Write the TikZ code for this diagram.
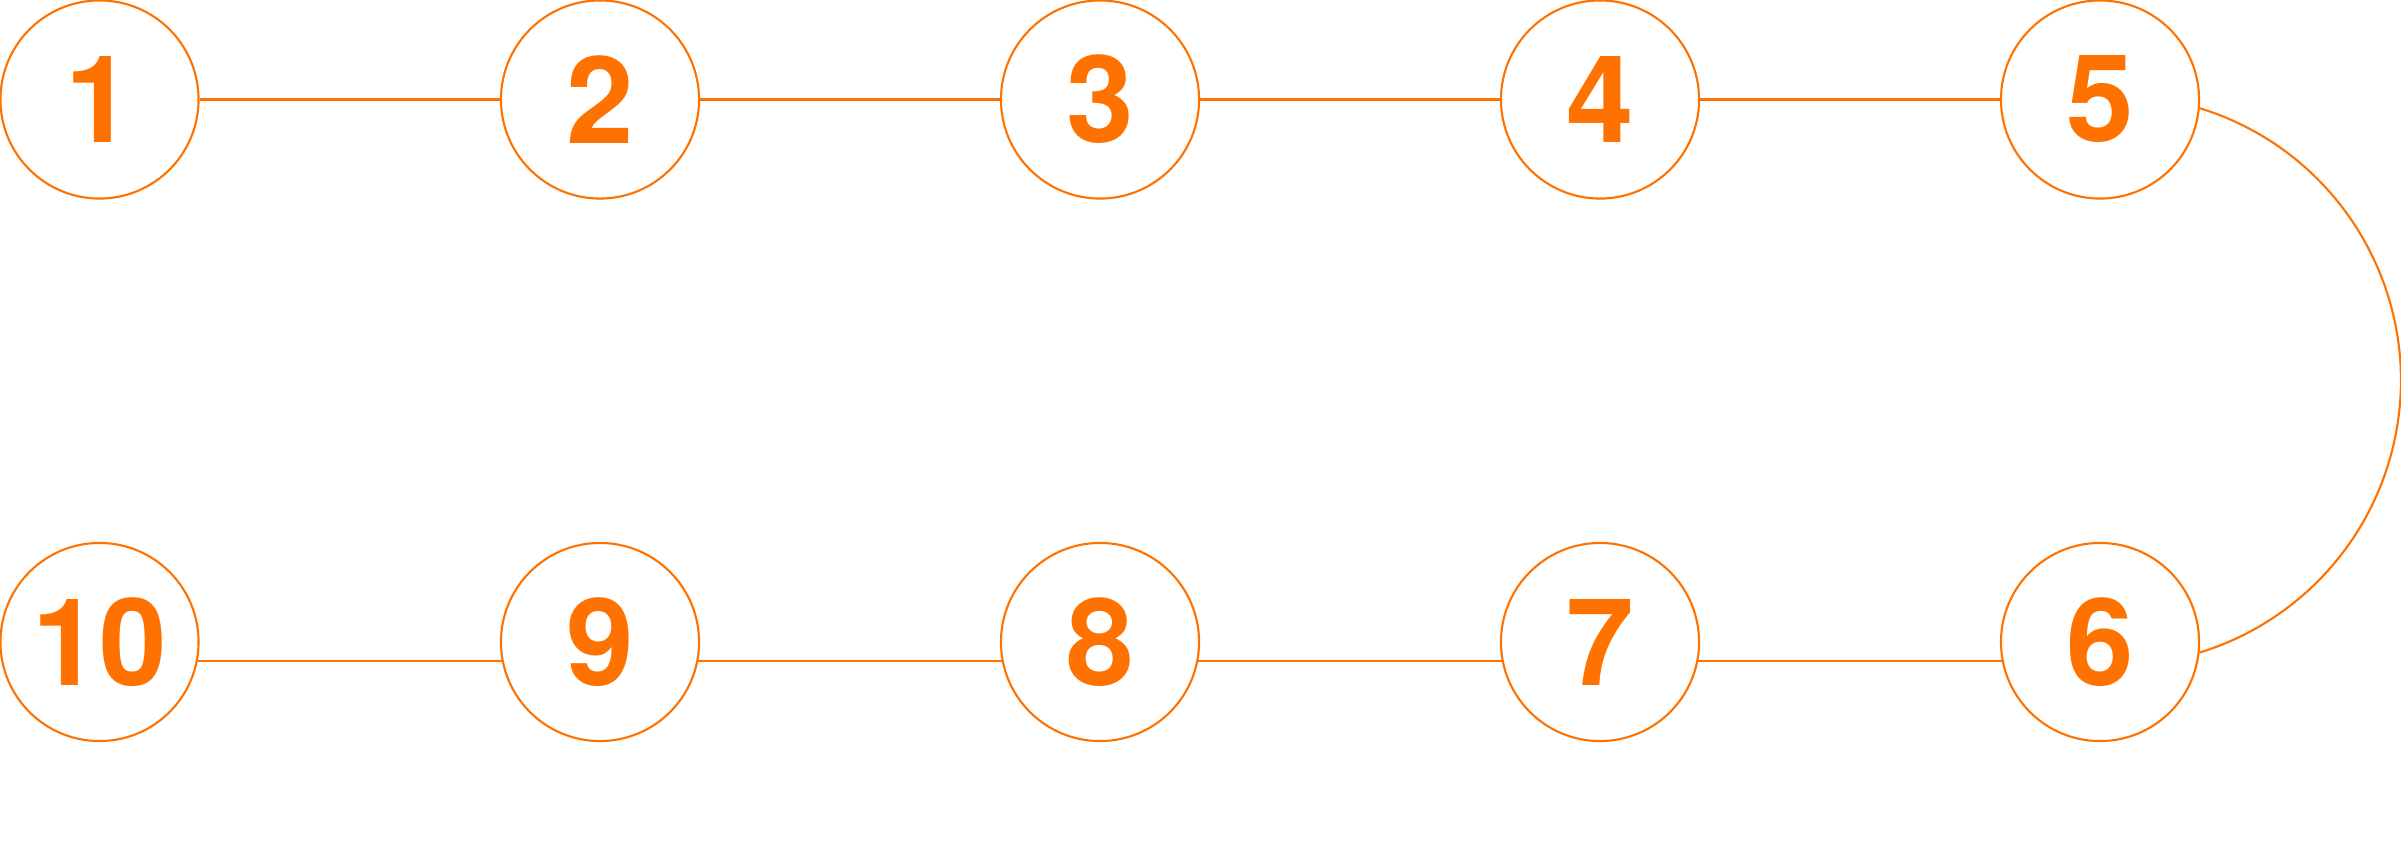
\documentclass[tikz,border=0pt]{standalone}
\usepackage{fontspec}
\setmainfont{TeX Gyre Heros}
\definecolor{stepor}{HTML}{FF7200}
\begin{document}
\begin{tikzpicture}[x=0.01cm,y=-0.01cm,
  stepcirc/.style={circle,draw=stepor,line width=0.6pt,minimum size=1.98cm,inner sep=0pt,
    text=stepor,font=\fontsize{34.5}{40}\selectfont\bfseries},
  link/.style={draw=stepor,line width=0.6pt}]
\useasboundingbox (0,0) rectangle (2401,845);
\node[stepcirc] (n1) at (99.5,99.5) {1};
\node[stepcirc] (n2) at (600,99.5) {2};
\node[stepcirc] (n3) at (1100,99.5) {3};
\node[stepcirc] (n4) at (1600,99.5) {4};
\node[stepcirc] (n5) at (2100,99.5) {5};
\node[stepcirc] (n10) at (99.5,642) {10};
\node[stepcirc] (n9) at (600,642) {9};
\node[stepcirc] (n8) at (1100,642) {8};
\node[stepcirc] (n7) at (1600,642) {7};
\node[stepcirc] (n6) at (2100,642) {6};
\draw[link] (n1) -- (n2);
\draw[link] (n2) -- (n3);
\draw[link] (n3) -- (n4);
\draw[link] (n4) -- (n5);
\draw[link] (n10.-11.65) -- (n9.191.65);
\draw[link] (n9.-11.65) -- (n8.191.65);
\draw[link] (n8.-11.65) -- (n7.191.65);
\draw[link] (n7.-11.65) -- (n6.191.65);
\draw[link] (n5.-5.5) arc[start angle=72.93,end angle=-72.93,radius=2.845cm];
\end{tikzpicture}
\end{document}
